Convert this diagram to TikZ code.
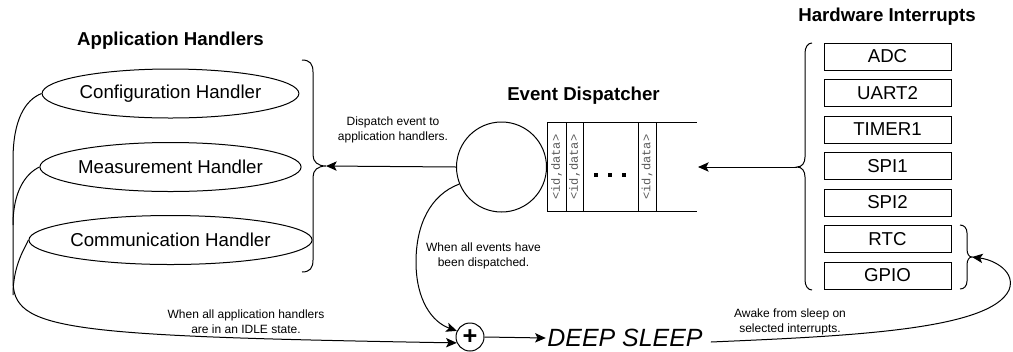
\documentclass[tikz,border=0pt]{standalone}
\usepackage{fontspec}
\setmainfont{Liberation Sans}
\setmonofont{Liberation Mono}
\usetikzlibrary{shapes.geometric,arrows.meta,calc}

\begin{document}
\begin{tikzpicture}[x=0.75pt,y=-0.75pt,
  conn/.style={line width=0.75pt},
  arr/.style={conn,-{Stealth[length=8pt,width=7pt,inset=1.8pt]}},
  handler/.style={ellipse,draw,line width=0.75pt,minimum width=183.75pt,
    minimum height=36.75pt,inner sep=0pt,font=\fontsize{14}{17}\selectfont},
  irq/.style={rectangle,draw,line width=0.75pt,minimum width=95.25pt,
    minimum height=20.25pt,inner sep=0pt,font=\fontsize{14}{17}\selectfont},
  title/.style={font=\bfseries\fontsize{14}{17}\selectfont,inner sep=0pt},
  note/.style={align=center,font=\fontsize{9}{11.25}\selectfont,inner sep=0pt},
  qtext/.style={rotate=90,font=\ttfamily\fontsize{9}{10}\selectfont,
    text=black!65,inner sep=0pt},
  brace/.style={line width=0.75pt},
]
\useasboundingbox (0,0) rectangle (1013,351);

% ---------- titles ----------
\node[title] (tapp) at (170.5,41) {Application Handlers};
\node[title] (tdisp) at (583.5,96) {Event Dispatcher};
\node[title] (thw) at (887,17) {Hardware Interrupts};

% ---------- application handlers ----------
\node[handler] (cfg)  at (170.5,93.5) {Configuration Handler};
\node[handler] (meas) at (170.5,167)  {Measurement Handler};
\node[handler] (comm) at (170.5,240)  {Communication Handler};

% brace grouping the handlers
\draw[brace] (302,60) .. controls (310,60) and (313,64) .. (313,72)
  -- (313,155) .. controls (313,162) and (318,166) .. (326,166)
  .. controls (318,166) and (313,170) .. (313,177)
  -- (313,260) .. controls (313,268) and (310,272) .. (302,272);
\coordinate (apptip) at (326,166);

% ---------- event dispatcher ----------
\node[circle,draw,line width=0.75pt,minimum size=67.5pt,inner sep=0pt] (disp) at (501.5,167) {};

% event queue
\draw[conn] (547,122) -- (697,122) (547,211) -- (697,211);
\foreach \x in {547,566,583,638,656} \draw[conn] (\x,122) -- (\x,211);
\node[qtext] (q1) at (556.5,167) {<id,data>};
\node[qtext] (q2) at (574.5,167) {<id,data>};
\node[qtext] (q3) at (647,167)   {<id,data>};
\foreach \x in {596,610,624} \fill (\x-2,173) rectangle (\x+2,177);
\coordinate (qin) at (698,167);

% ---------- hardware interrupts ----------
\node[irq] (adc)   at (887.5,56.5)  {ADC};
\node[irq] (uart)  at (887.5,93)    {UART2};
\node[irq] (timer) at (887.5,129.5) {TIMER1};
\node[irq] (spia)  at (887.5,166)   {SPI1};
\node[irq] (spib)  at (887.5,202.5) {SPI2};
\node[irq] (rtc)   at (887.5,239)   {RTC};
\node[irq] (gpio)  at (887.5,275.5) {GPIO};

% brace grouping all interrupt sources
\draw[brace] (812,43) .. controls (808,43) and (805,47) .. (805,53)
  -- (805,157) .. controls (805,163) and (802,167) .. (797,167)
  .. controls (802,167) and (805,171) .. (805,177)
  -- (805,280) .. controls (805,286) and (808,290) .. (812,290);
\coordinate (hwtip) at (797,167);

% brace grouping the wake-up sources
\draw[brace] (960,225) .. controls (964,225) and (967,228) .. (967,233)
  -- (967,249) .. controls (967,254) and (969,257) .. (972,257)
  .. controls (969,257) and (967,260) .. (967,265)
  -- (967,281) .. controls (967,286) and (964,289) .. (960,289);
\coordinate (rtctip) at (972,257);

% ---------- sleep ----------
\node[circle,draw,line width=0.75pt,minimum size=21pt,inner sep=0pt,
  font=\bfseries\fontsize{19}{19}\selectfont] (plus) at (470,337) {+};
\node[font=\itshape\fontsize{18.7}{22}\selectfont,inner xsep=1pt,inner ysep=0pt]
  (deep) at (625,338) {DEEP SLEEP};

% ---------- connectors ----------
\draw[arr] (disp.west) -- (apptip);
\draw[arr] (hwtip) -- (qin);

\draw[arr] (cfg.west) .. controls (25,100) and (13,120) .. (13,160)
  -- (13,280) .. controls (13,330) and (60,336) .. (plus.204);
\draw[conn] (meas.west) .. controls (25,174) and (13,192) .. (13,225);
\draw[conn] (comm.west) .. controls (25,248) and (13,265) .. (13,295);

\draw[arr] (disp.202) .. controls (430,195) and (416,225) .. (416,262)
  .. controls (416,300) and (432,322) .. (plus.155);

\draw[arr] (plus.east) -- (deep.west);
\draw[arr] ([xshift=5pt,yshift=-3pt]deep.east)
  .. controls (850,336) and (990,330) .. (1009,290)
  .. controls (1016,272) and (995,260) .. (rtctip);

% ---------- labels ----------
\node[note] (ldisp) at (393,129.5) {Dispatch event to\\application handlers.};
\node[note] (ldone) at (483.5,255.5) {When all events have\\been dispatched.};
\node[note] (lidle) at (246,321.5) {When all application handlers\\are in an IDLE state.};
\node[note] (lwake) at (790,321.5) {Awake from sleep on\\selected interrupts.};
\end{tikzpicture}
\end{document}
